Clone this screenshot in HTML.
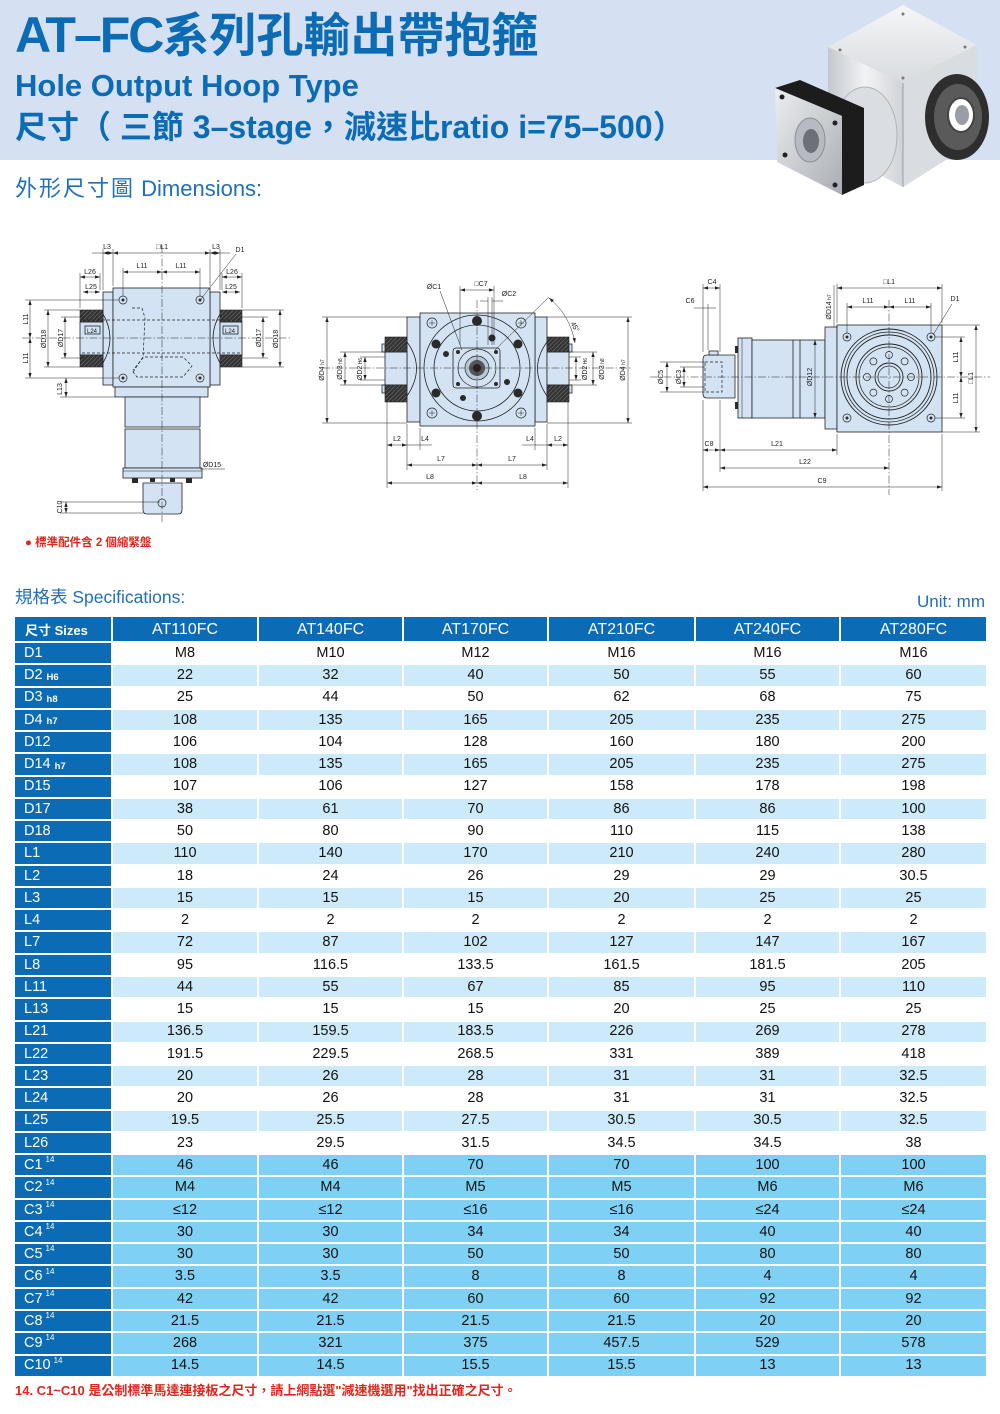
<!DOCTYPE html>
<html><head><meta charset="utf-8">
<style>
*{margin:0;padding:0;box-sizing:border-box}
body{width:1000px;height:1414px;position:relative;background:#fff;overflow:hidden;font-family:"Liberation Sans","Noto Sans CJK TC",sans-serif}
.band{position:absolute;left:0;top:0;width:1000px;height:160px;background:#d5e1f2}
.a{position:absolute;white-space:nowrap}
.g{position:absolute;left:15px;top:617px;display:grid;grid-template-columns:96px 144px 143px 143px 145px 143px 145px;grid-template-rows:24px repeat(33,20.28px);gap:2px}
.r{display:contents}
.r>div{display:flex;align-items:center;justify-content:center;font-size:14.5px;color:#111;line-height:1}
.r>div:first-child{background:#0b6cb5;color:#fff;justify-content:flex-start;padding-left:9px;font-size:14.5px}
.hd>div{background:#0b6cb5;color:#fff;font-size:16px;padding-top:2px}
.hd>div:first-child{font-weight:bold;font-size:13px;padding-left:10px}
.l>div{background:#cdeafa}
.c>div{background:#7ed0f4}
.r b{font-size:9.5px;margin-left:4px;position:relative;top:2px}
.r sup{font-size:8px;margin-left:3px;position:relative;top:-5px;vertical-align:baseline}
svg text{font-family:"Liberation Sans","DejaVu Sans",sans-serif}
.o{fill:#d3e3f4;stroke:#222;stroke-width:0.8}
.d{stroke:#222;stroke-width:0.5;fill:none}
.dm{stroke:#222;stroke-width:0.5;fill:none;marker-start:url(#ar);marker-end:url(#ar)}
.ds{stroke:#222;stroke-width:0.7;stroke-dasharray:3 2;fill:none}
.cl{stroke:#222;stroke-width:0.5;stroke-dasharray:8 2 1.5 2;fill:none}
.t{font-size:7px;fill:#222;text-anchor:middle}
.hb{fill:url(#ht);stroke:#222;stroke-width:0.6}
.bt{fill:#d3e3f4;stroke:#222;stroke-width:0.7}
.dk{fill:#2a2a2a}
</style></head>
<body>
<div class="band"></div>

<div class="a" style="left:15px;top:10px;font-weight:bold;font-size:50px;line-height:50px;color:#0b6cb5"><span style="letter-spacing:-2px">AT–FC</span><span style="font-size:47px;letter-spacing:0">系列孔輸出帶抱箍</span></div>
<div class="a" style="left:15px;top:70px;font-weight:bold;font-size:31px;line-height:31px;color:#0b6cb5">Hole Output Hoop Type</div>
<div class="a" style="left:15px;top:111px;font-weight:bold;font-size:32px;line-height:32px;color:#0b6cb5">尺寸（ 三節 3–stage，減速比ratio i=75–500）</div>
<div class="a" style="left:15px;top:178px;font-size:22px;line-height:22px;color:#1f6fb9"><span style="letter-spacing:2px">外形尺寸圖</span> Dimensions:</div>

<svg class="a" style="left:0;top:0" width="1000" height="560" viewBox="0 0 1000 560">
<defs>
<marker id="ar" viewBox="0 0 6 4" refX="6" refY="2" markerWidth="5" markerHeight="3.4" markerUnits="userSpaceOnUse" orient="auto-start-reverse"><path d="M0,0L6,2L0,4z" fill="#222"/></marker>
<pattern id="ht" width="3" height="3" patternUnits="userSpaceOnUse" patternTransform="rotate(45)"><rect width="3" height="3" fill="#333"/><line x1="0" y1="0" x2="0" y2="3" stroke="#999" stroke-width="0.7"/></pattern>
<linearGradient id="gl" x1="0" y1="0" x2="1" y2="0"><stop offset="0" stop-color="#c4c8ce"/><stop offset="0.5" stop-color="#f2f3f5"/><stop offset="1" stop-color="#cfd2d7"/></linearGradient>
<linearGradient id="gr" x1="0" y1="0" x2="1" y2="1"><stop offset="0" stop-color="#e6e8eb"/><stop offset="1" stop-color="#b9bdc3"/></linearGradient>
<linearGradient id="gt" x1="0" y1="0" x2="0" y2="1"><stop offset="0" stop-color="#f5f6f7"/><stop offset="1" stop-color="#d8dbdf"/></linearGradient>
<linearGradient id="gf" x1="0" y1="0" x2="1" y2="1"><stop offset="0" stop-color="#eceef0"/><stop offset="1" stop-color="#a9adb3"/></linearGradient>
</defs>

<!-- PRODUCT IMAGE -->
<g>
<polygon points="828,47 903,5 977,45 977,140 903,187 828,147" fill="url(#gr)"/>
<polygon points="828,47 903,5 977,45 903,83" fill="url(#gt)"/>
<polygon points="828,47 903,83 903,187 828,147" fill="url(#gl)"/>
<polygon points="903,83 977,45 977,140 903,187" fill="#d9dce0"/>
<line x1="903" y1="83" x2="903" y2="187" stroke="#9aa0a7" stroke-width="1"/>
<ellipse cx="865" cy="135" rx="32" ry="48" fill="#dadde1" stroke="#b0b4ba"/>
<ellipse cx="957" cy="117" rx="32" ry="43" fill="#2e2e2e"/>
<ellipse cx="958" cy="117" rx="24" ry="33" fill="#5a5a5a"/>
<ellipse cx="961" cy="115" rx="13" ry="17" fill="#fff" stroke="#444" stroke-width="2"/>
<ellipse cx="962" cy="115" rx="7" ry="10" fill="#9a9ea4"/>
<polygon points="775,88 800,80 864,108 864,185 842,195 842,116" fill="#1c1c1c"/>
<polygon points="775,88 842,116 842,195 777,162" fill="url(#gf)"/>
<ellipse cx="810" cy="140" rx="15" ry="22" fill="#b7bbc1" stroke="#8a8f96"/>
<ellipse cx="811" cy="141" rx="8" ry="12" fill="#6d7177"/>
<circle cx="782" cy="97" r="2.5" fill="#222"/><circle cx="835" cy="123" r="2.5" fill="#222"/>
<circle cx="785" cy="155" r="2.5" fill="#222"/><circle cx="835" cy="185" r="2.5" fill="#222"/>
<circle cx="903" cy="14" r="1.5" fill="#777"/><circle cx="840" cy="50" r="1.5" fill="#777"/><circle cx="965" cy="47" r="1.5" fill="#777"/><circle cx="903" cy="78" r="1.5" fill="#777"/>
</g>

<!-- LEFT DRAWING -->
<g>
<rect class="o" x="103" y="292" width="10" height="93"/>
<rect class="o" x="210" y="292" width="10" height="93"/>
<rect class="o" x="113" y="288" width="97" height="99"/>
<rect class="o" x="115" y="387" width="93" height="10"/>
<rect class="o" x="125" y="397" width="75" height="30"/>
<rect class="o" x="125" y="429" width="75" height="39"/>
<rect class="o" x="123" y="468" width="79" height="10"/>
<line class="d" x1="123" y1="471" x2="202" y2="471"/>
<rect class="dk" x="132" y="478" width="6" height="5"/><rect class="dk" x="186" y="478" width="6" height="5"/>
<rect class="dk" x="150" y="478" width="5" height="4"/><rect class="dk" x="170" y="478" width="5" height="4"/>
<path class="o" d="M143,483H182V510Q182,514 178,514H147Q143,514 143,510Z"/>
<circle class="bt" cx="162" cy="503" r="4"/>
<rect class="o" x="80" y="322" width="23" height="33"/>
<rect class="hb" x="80" y="310" width="23" height="12"/>
<rect class="hb" x="80" y="355" width="23" height="12"/>
<rect class="o" x="85" y="326" width="15" height="8"/>
<text class="t" x="92" y="333" style="font-size:6px">L24</text>
<rect class="o" x="220" y="322" width="22" height="33"/>
<rect class="hb" x="220" y="310" width="22" height="12"/>
<rect class="hb" x="220" y="355" width="22" height="12"/>
<rect class="o" x="223" y="326" width="15" height="8"/>
<text class="t" x="230" y="333" style="font-size:6px">L24</text>
<path d="M103,314Q117,338 103,363" fill="none" stroke="#222" stroke-width="0.8"/>
<path d="M220,314Q206,338 220,363" fill="none" stroke="#222" stroke-width="0.8"/>
<line class="ds" x1="82" y1="320" x2="241" y2="320"/>
<line class="ds" x1="82" y1="353" x2="241" y2="353"/>
<path class="ds" d="M132,308L142,308L145,318L143,358L133,370"/>
<path class="ds" d="M133,372L143,357L183,357L192,366L183,377L137,377Z"/>
<line class="cl" x1="162" y1="245" x2="162" y2="522"/>
<line class="cl" x1="22" y1="338" x2="292" y2="338"/>
<circle class="bt" cx="123" cy="300" r="4"/><circle class="bt" cx="200" cy="300" r="4"/>
<circle class="bt" cx="123" cy="378" r="4"/><circle class="bt" cx="200" cy="378" r="4"/>
<circle class="dk" cx="123" cy="300" r="1.5"/><circle class="dk" cx="200" cy="300" r="1.5"/>
<circle class="dk" cx="123" cy="378" r="1.5"/><circle class="dk" cx="200" cy="378" r="1.5"/>
<line class="d" x1="103" y1="290" x2="103" y2="249"/><line class="d" x1="113" y1="286" x2="113" y2="249"/>
<line class="d" x1="210" y1="286" x2="210" y2="249"/><line class="d" x1="220" y1="290" x2="220" y2="249"/>
<line class="d" x1="92" y1="253" x2="103" y2="253"/><line class="d" x1="220" y1="253" x2="230" y2="253"/>
<line class="dm" x1="103" y1="253" x2="113" y2="253"/>
<line class="dm" x1="113" y1="253" x2="210" y2="253"/>
<line class="dm" x1="210" y1="253" x2="220" y2="253"/>
<text class="t" x="107" y="249">L3</text><text class="t" x="162" y="249">□L1</text><text class="t" x="216" y="249">L3</text>
<text class="t" x="240" y="252">D1</text>
<line class="d" x1="236" y1="254" x2="201" y2="299"/>
<line class="d" x1="123" y1="296" x2="123" y2="268"/><line class="d" x1="200" y1="296" x2="200" y2="268"/>
<line class="dm" x1="123" y1="272" x2="162" y2="272"/><line class="dm" x1="162" y1="272" x2="200" y2="272"/>
<text class="t" x="142" y="268">L11</text><text class="t" x="181" y="268">L11</text>
<line class="d" x1="80" y1="308" x2="80" y2="273"/><line class="d" x1="100" y1="290" x2="100" y2="273"/>
<line class="dm" x1="80" y1="277" x2="100" y2="277"/><text class="t" x="90" y="274">L26</text>
<line class="dm" x1="83" y1="292" x2="100" y2="292"/><text class="t" x="91" y="289">L25</text>
<line class="d" x1="242" y1="308" x2="242" y2="273"/><line class="d" x1="222" y1="290" x2="222" y2="273"/>
<line class="dm" x1="222" y1="277" x2="242" y2="277"/><text class="t" x="232" y="274">L26</text>
<line class="dm" x1="222" y1="292" x2="240" y2="292"/><text class="t" x="231" y="289">L25</text>
<line class="d" x1="25" y1="300" x2="119" y2="300"/><line class="d" x1="25" y1="378" x2="119" y2="378"/>
<line class="dm" x1="30" y1="300" x2="30" y2="338"/><line class="dm" x1="30" y1="338" x2="30" y2="378"/>
<text class="t" transform="rotate(-90 28 319)" x="28" y="319">L11</text>
<text class="t" transform="rotate(-90 28 358)" x="28" y="358">L11</text>
<line class="d" x1="44" y1="310" x2="80" y2="310"/><line class="d" x1="44" y1="367" x2="80" y2="367"/>
<line class="dm" x1="48" y1="310" x2="48" y2="367"/>
<text class="t" transform="rotate(-90 46 339)" x="46" y="339">ØD18</text>
<line class="d" x1="61" y1="317" x2="85" y2="317"/><line class="d" x1="61" y1="358" x2="85" y2="358"/>
<line class="dm" x1="65" y1="317" x2="65" y2="358"/>
<text class="t" transform="rotate(-90 63 338)" x="63" y="338">ØD17</text>
<line class="d" x1="60" y1="397" x2="115" y2="397"/>
<line class="dm" x1="66" y1="378" x2="66" y2="397"/>
<text class="t" transform="rotate(-90 62 389)" x="62" y="389">L13</text>
<line class="d" x1="60" y1="502" x2="160" y2="502"/><line class="d" x1="60" y1="513" x2="143" y2="513"/>
<line class="dm" x1="66" y1="502" x2="66" y2="513"/>
<text class="t" transform="rotate(-90 62 507)" x="62" y="507">C10</text>
<line class="d" x1="242" y1="317" x2="268" y2="317"/><line class="d" x1="242" y1="358" x2="268" y2="358"/>
<line class="dm" x1="263" y1="317" x2="263" y2="358"/>
<text class="t" transform="rotate(-90 261 338)" x="261" y="338">ØD17</text>
<line class="d" x1="242" y1="310" x2="284" y2="310"/><line class="d" x1="242" y1="367" x2="284" y2="367"/>
<line class="dm" x1="280" y1="310" x2="280" y2="367"/>
<text class="t" transform="rotate(-90 278 339)" x="278" y="339">ØD18</text>
<line class="d" x1="200" y1="469" x2="225" y2="469"/>
<text class="t" x="212" y="467">ØD15</text>
</g>

<!-- MIDDLE DRAWING -->
<g>
<rect class="o" x="407" y="317" width="13" height="105"/>
<rect class="o" x="535" y="317" width="12" height="105"/>
<rect class="o" x="420" y="313" width="115" height="113"/>
<circle class="o" cx="477" cy="368" r="53"/>
<circle cx="477" cy="368" r="43" fill="none" stroke="#222" stroke-width="0.8"/>
<rect class="o" x="453" y="348" width="47" height="40" rx="3"/>
<circle cx="477" cy="368" r="19" fill="none" stroke="#222" stroke-width="0.7"/>
<circle cx="477" cy="368" r="12" fill="#b8c8da" stroke="#222" stroke-width="0.7"/>
<circle cx="477" cy="368" r="8" fill="#555"/>
<circle cx="477" cy="368" r="4" fill="#222"/>
<circle class="dk" cx="477" cy="321" r="5"/><circle class="dk" cx="477" cy="416" r="5"/>
<circle class="dk" cx="436" cy="344" r="4.5"/><circle class="dk" cx="518" cy="344" r="4.5"/>
<circle class="dk" cx="436" cy="393" r="4.5"/><circle class="dk" cx="518" cy="393" r="4.5"/>
<circle class="dk" cx="446" cy="354" r="3"/><circle class="dk" cx="492" cy="338" r="3.5"/>
<circle class="dk" cx="507" cy="382" r="3"/><circle class="dk" cx="463" cy="398" r="3"/>
<circle class="dk" cx="458" cy="352" r="2"/><circle class="dk" cx="496" cy="352" r="2"/>
<circle class="dk" cx="458" cy="384" r="2"/><circle class="dk" cx="496" cy="384" r="2"/>
<circle class="bt" cx="432" cy="323" r="5"/><circle class="bt" cx="521" cy="323" r="5"/>
<circle class="bt" cx="432" cy="413" r="5"/><circle class="bt" cx="521" cy="413" r="5"/>
<path class="d" d="M429,323h6M432,320v6M518,323h6M521,320v6M429,413h6M432,410v6M518,413h6M521,410v6"/>
<rect class="o" x="385" y="352" width="22" height="33"/>
<rect class="hb" x="385" y="337" width="22" height="15"/>
<rect class="hb" x="385" y="385" width="22" height="17"/>
<rect class="o" x="547" y="352" width="22" height="33"/>
<rect class="hb" x="547" y="337" width="22" height="15"/>
<rect class="hb" x="547" y="385" width="22" height="17"/>
<rect class="o" x="382" y="344" width="3" height="8"/><rect class="o" x="382" y="385" width="3" height="8"/>
<rect class="o" x="569" y="344" width="3" height="8"/><rect class="o" x="569" y="385" width="3" height="8"/>
<path d="M407,342Q426,368 407,396" fill="none" stroke="#222" stroke-width="0.8"/>
<path d="M547,342Q528,368 547,396" fill="none" stroke="#222" stroke-width="0.8"/>
<line class="cl" x1="322" y1="368" x2="632" y2="368"/>
<line class="cl" x1="477" y1="300" x2="477" y2="490"/>
<line class="d" x1="322" y1="317" x2="407" y2="317"/><line class="d" x1="322" y1="423" x2="407" y2="423"/>
<line class="dm" x1="327" y1="317" x2="327" y2="423"/>
<text class="t" transform="rotate(-90 324 370)" x="324" y="370">ØD4<tspan style="font-size:5px"> h7</tspan></text>
<line class="d" x1="340" y1="352" x2="385" y2="352"/><line class="d" x1="340" y1="385" x2="385" y2="385"/>
<line class="dm" x1="345" y1="352" x2="345" y2="385"/>
<text class="t" transform="rotate(-90 342 369)" x="342" y="369">ØD3<tspan style="font-size:5px"> h8</tspan></text>
<line class="d" x1="360" y1="357" x2="385" y2="357"/><line class="d" x1="360" y1="380" x2="385" y2="380"/>
<line class="dm" x1="365" y1="357" x2="365" y2="380"/>
<text class="t" transform="rotate(-90 362 369)" x="362" y="369">ØD2<tspan style="font-size:5px"> H6</tspan></text>
<line class="d" x1="569" y1="357" x2="581" y2="357"/><line class="d" x1="569" y1="380" x2="581" y2="380"/>
<line class="dm" x1="576" y1="357" x2="576" y2="380"/>
<text class="t" transform="rotate(-90 587 369)" x="587" y="369">ØD2<tspan style="font-size:5px"> H6</tspan></text>
<line class="d" x1="569" y1="352" x2="597" y2="352"/><line class="d" x1="569" y1="385" x2="597" y2="385"/>
<line class="dm" x1="593" y1="352" x2="593" y2="385"/>
<text class="t" transform="rotate(-90 604 369)" x="604" y="369">ØD3<tspan style="font-size:5px"> h8</tspan></text>
<line class="d" x1="547" y1="317" x2="632" y2="317"/><line class="d" x1="547" y1="423" x2="632" y2="423"/>
<line class="dm" x1="628" y1="317" x2="628" y2="423"/>
<text class="t" transform="rotate(-90 625 370)" x="625" y="370">ØD4<tspan style="font-size:5px"> h7</tspan></text>
<line class="d" x1="387" y1="402" x2="387" y2="488"/><line class="d" x1="407" y1="424" x2="407" y2="470"/>
<line class="d" x1="420" y1="428" x2="420" y2="450"/>
<line class="d" x1="535" y1="428" x2="535" y2="450"/><line class="d" x1="547" y1="424" x2="547" y2="470"/>
<line class="d" x1="568" y1="402" x2="568" y2="488"/>
<line class="dm" x1="387" y1="445" x2="407" y2="445"/><text class="t" x="397" y="441">L2</text>
<line class="d" x1="407" y1="445" x2="432" y2="445"/><text class="t" x="425" y="441">L4</text>
<line class="dm" x1="547" y1="445" x2="568" y2="445"/><text class="t" x="558" y="441">L2</text>
<line class="d" x1="522" y1="445" x2="547" y2="445"/><text class="t" x="530" y="441">L4</text>
<line class="dm" x1="407" y1="465" x2="477" y2="465"/><text class="t" x="441" y="461">L7</text>
<line class="dm" x1="477" y1="465" x2="547" y2="465"/><text class="t" x="512" y="461">L7</text>
<line class="dm" x1="387" y1="483" x2="477" y2="483"/><text class="t" x="430" y="479">L8</text>
<line class="dm" x1="477" y1="483" x2="568" y2="483"/><text class="t" x="523" y="479">L8</text>
<text class="t" x="434" y="289">ØC1</text>
<line class="d" x1="440" y1="291" x2="462" y2="350"/>
<line class="d" x1="460" y1="345" x2="460" y2="286"/><line class="d" x1="494" y1="345" x2="494" y2="286"/>
<line class="dm" x1="460" y1="290" x2="494" y2="290"/>
<text class="t" x="481" y="286">□C7</text>
<line class="d" x1="488" y1="345" x2="488" y2="297"/><line class="d" x1="492" y1="345" x2="492" y2="297"/>
<line class="d" x1="480" y1="301" x2="488" y2="301"/><line class="d" x1="492" y1="301" x2="503" y2="301"/>
<text class="t" x="509" y="296">ØC2</text>
<line class="d" x1="549" y1="297" x2="495" y2="350"/>
<path class="dm" d="M549,298Q570,315 575,343"/>
<text class="t" transform="rotate(60 573 328)" x="573" y="328">45°</text>
</g>

<!-- RIGHT DRAWING -->
<g>
<path class="o" d="M707,355H735V398H707Q703,398 703,394V359Q703,355 707,355Z"/>
<rect class="ds" x="705" y="362" width="17" height="30"/>
<rect class="o" x="709" y="351" width="9" height="4"/>
<rect class="dk" x="735" y="346" width="4" height="7"/><rect class="dk" x="735" y="402" width="4" height="7"/>
<rect class="o" x="738" y="338" width="14" height="80"/>
<line class="d" x1="742" y1="338" x2="742" y2="418"/>
<rect class="o" x="752" y="340" width="73" height="78"/>
<line class="d" x1="793" y1="340" x2="793" y2="418" style="stroke-width:0.8"/>
<line class="d" x1="800" y1="340" x2="800" y2="418" style="stroke-width:0.8"/>
<rect class="o" x="825" y="327" width="12" height="102"/>
<rect class="o" x="837" y="325" width="105" height="107"/>
<circle cx="889" cy="377" r="48" fill="none" stroke="#222" stroke-width="0.9"/>
<circle cx="889" cy="377" r="45" fill="none" stroke="#222" stroke-width="0.7"/>
<circle cx="889" cy="377" r="42" fill="none" stroke="#222" stroke-width="0.9"/>
<circle cx="889" cy="377" r="33" fill="none" stroke="#222" stroke-width="0.9"/>
<circle cx="889" cy="377" r="30" fill="none" stroke="#222" stroke-width="0.7"/>
<circle class="bt" cx="911" cy="377" r="3.5"/><circle class="bt" cx="904.6" cy="361.4" r="3.5"/>
<circle class="bt" cx="889" cy="355" r="3.5"/><circle class="bt" cx="873.4" cy="361.4" r="3.5"/>
<circle class="bt" cx="867" cy="377" r="3.5"/><circle class="bt" cx="873.4" cy="392.6" r="3.5"/>
<circle class="bt" cx="889" cy="399" r="3.5"/><circle class="bt" cx="904.6" cy="392.6" r="3.5"/>
<circle cx="889" cy="377" r="14" fill="none" stroke="#222" stroke-width="0.9"/>
<circle cx="889" cy="377" r="11" fill="none" stroke="#222" stroke-width="0.7"/>
<circle class="bt" cx="847" cy="337" r="4"/><circle class="bt" cx="931" cy="337" r="4"/>
<circle class="bt" cx="847" cy="418" r="4"/><circle class="bt" cx="931" cy="418" r="4"/>
<circle class="dk" cx="847" cy="337" r="1.5"/><circle class="dk" cx="931" cy="337" r="1.5"/>
<circle class="dk" cx="847" cy="418" r="1.5"/><circle class="dk" cx="931" cy="418" r="1.5"/>
<line class="cl" x1="650" y1="377" x2="990" y2="377"/>
<line class="cl" x1="889" y1="300" x2="889" y2="495"/>
<line class="d" x1="837" y1="323" x2="837" y2="284"/><line class="d" x1="942" y1="323" x2="942" y2="284"/>
<line class="dm" x1="837" y1="288" x2="942" y2="288"/><text class="t" x="889" y="284">□L1</text>
<line class="d" x1="847" y1="333" x2="847" y2="303"/><line class="d" x1="931" y1="333" x2="931" y2="303"/>
<line class="dm" x1="847" y1="307" x2="889" y2="307"/><line class="dm" x1="889" y1="307" x2="931" y2="307"/>
<text class="t" x="868" y="303">L11</text><text class="t" x="910" y="303">L11</text>
<text class="t" x="955" y="301">D1</text>
<line class="d" x1="952" y1="304" x2="933" y2="335"/>
<line class="d" x1="942" y1="325" x2="980" y2="325"/><line class="d" x1="942" y1="432" x2="980" y2="432"/>
<line class="dm" x1="976" y1="325" x2="976" y2="432"/>
<text class="t" transform="rotate(-90 973 378)" x="973" y="378">□L1</text>
<line class="d" x1="935" y1="337" x2="965" y2="337"/><line class="d" x1="935" y1="418" x2="965" y2="418"/>
<line class="dm" x1="961" y1="337" x2="961" y2="377"/><line class="dm" x1="961" y1="377" x2="961" y2="418"/>
<text class="t" transform="rotate(-90 958 357)" x="958" y="357">L11</text>
<text class="t" transform="rotate(-90 958 398)" x="958" y="398">L11</text>
<line class="d" x1="834" y1="285" x2="834" y2="327"/>
<text class="t" transform="rotate(-90 831 307)" x="831" y="307">ØD14<tspan style="font-size:5px"> h7</tspan></text>
<line class="dm" x1="815" y1="340" x2="815" y2="418"/>
<text class="t" transform="rotate(-90 812 377)" x="812" y="377">ØD12</text>
<line class="d" x1="660" y1="362" x2="705" y2="362"/><line class="d" x1="660" y1="392" x2="705" y2="392"/>
<line class="dm" x1="667" y1="362" x2="667" y2="392"/>
<text class="t" transform="rotate(-90 663 377)" x="663" y="377">ØC5</text>
<line class="d" x1="680" y1="367" x2="705" y2="367"/><line class="d" x1="680" y1="387" x2="705" y2="387"/>
<line class="dm" x1="684" y1="367" x2="684" y2="387"/>
<text class="t" transform="rotate(-90 681 377)" x="681" y="377">ØC3</text>
<line class="d" x1="703" y1="352" x2="703" y2="284"/><line class="d" x1="720" y1="352" x2="720" y2="284"/>
<line class="dm" x1="703" y1="288" x2="720" y2="288"/><text class="t" x="712" y="284">C4</text>
<line class="d" x1="708" y1="350" x2="708" y2="304"/>
<line class="d" x1="694" y1="308" x2="716" y2="308"/><text class="t" x="690" y="303">C6</text>
<line class="d" x1="703" y1="400" x2="703" y2="491"/><line class="d" x1="720" y1="400" x2="720" y2="472"/>
<line class="d" x1="837" y1="434" x2="837" y2="455"/><line class="d" x1="942" y1="434" x2="942" y2="491"/>
<line class="dm" x1="703" y1="450" x2="720" y2="450"/><text class="t" x="709" y="446">C8</text>
<line class="dm" x1="720" y1="450" x2="837" y2="450"/><text class="t" x="777" y="446">L21</text>
<line class="dm" x1="720" y1="468" x2="889" y2="468"/><text class="t" x="805" y="464">L22</text>
<line class="dm" x1="703" y1="487" x2="942" y2="487"/><text class="t" x="822" y="483">C9</text>
</g>
</svg>

<div class="a" style="left:25px;top:537px;font-weight:bold;font-size:11.5px;line-height:12px;color:#e0261e">● 標準配件含 2 個縮緊盤</div>

<div class="a" style="left:15px;top:588px;font-size:17.5px;line-height:18px;color:#1f6fb9">規格表 Specifications:</div>
<div class="a" style="left:917px;top:593px;font-size:17px;line-height:17px;color:#1f6fb9">Unit: mm</div>

<div class="g">
<div class="r hd"><div>尺寸 Sizes</div><div>AT110FC</div><div>AT140FC</div><div>AT170FC</div><div>AT210FC</div><div>AT240FC</div><div>AT280FC</div></div>
<div class="r"><div>D1</div><div>M8</div><div>M10</div><div>M12</div><div>M16</div><div>M16</div><div>M16</div></div>
<div class="r l"><div>D2<b>H6</b></div><div>22</div><div>32</div><div>40</div><div>50</div><div>55</div><div>60</div></div>
<div class="r"><div>D3<b>h8</b></div><div>25</div><div>44</div><div>50</div><div>62</div><div>68</div><div>75</div></div>
<div class="r l"><div>D4<b>h7</b></div><div>108</div><div>135</div><div>165</div><div>205</div><div>235</div><div>275</div></div>
<div class="r"><div>D12</div><div>106</div><div>104</div><div>128</div><div>160</div><div>180</div><div>200</div></div>
<div class="r l"><div>D14<b>h7</b></div><div>108</div><div>135</div><div>165</div><div>205</div><div>235</div><div>275</div></div>
<div class="r"><div>D15</div><div>107</div><div>106</div><div>127</div><div>158</div><div>178</div><div>198</div></div>
<div class="r l"><div>D17</div><div>38</div><div>61</div><div>70</div><div>86</div><div>86</div><div>100</div></div>
<div class="r"><div>D18</div><div>50</div><div>80</div><div>90</div><div>110</div><div>115</div><div>138</div></div>
<div class="r l"><div>L1</div><div>110</div><div>140</div><div>170</div><div>210</div><div>240</div><div>280</div></div>
<div class="r"><div>L2</div><div>18</div><div>24</div><div>26</div><div>29</div><div>29</div><div>30.5</div></div>
<div class="r l"><div>L3</div><div>15</div><div>15</div><div>15</div><div>20</div><div>25</div><div>25</div></div>
<div class="r"><div>L4</div><div>2</div><div>2</div><div>2</div><div>2</div><div>2</div><div>2</div></div>
<div class="r l"><div>L7</div><div>72</div><div>87</div><div>102</div><div>127</div><div>147</div><div>167</div></div>
<div class="r"><div>L8</div><div>95</div><div>116.5</div><div>133.5</div><div>161.5</div><div>181.5</div><div>205</div></div>
<div class="r l"><div>L11</div><div>44</div><div>55</div><div>67</div><div>85</div><div>95</div><div>110</div></div>
<div class="r"><div>L13</div><div>15</div><div>15</div><div>15</div><div>20</div><div>25</div><div>25</div></div>
<div class="r l"><div>L21</div><div>136.5</div><div>159.5</div><div>183.5</div><div>226</div><div>269</div><div>278</div></div>
<div class="r"><div>L22</div><div>191.5</div><div>229.5</div><div>268.5</div><div>331</div><div>389</div><div>418</div></div>
<div class="r l"><div>L23</div><div>20</div><div>26</div><div>28</div><div>31</div><div>31</div><div>32.5</div></div>
<div class="r"><div>L24</div><div>20</div><div>26</div><div>28</div><div>31</div><div>31</div><div>32.5</div></div>
<div class="r l"><div>L25</div><div>19.5</div><div>25.5</div><div>27.5</div><div>30.5</div><div>30.5</div><div>32.5</div></div>
<div class="r"><div>L26</div><div>23</div><div>29.5</div><div>31.5</div><div>34.5</div><div>34.5</div><div>38</div></div>
<div class="r c"><div>C1<sup>14</sup></div><div>46</div><div>46</div><div>70</div><div>70</div><div>100</div><div>100</div></div>
<div class="r c"><div>C2<sup>14</sup></div><div>M4</div><div>M4</div><div>M5</div><div>M5</div><div>M6</div><div>M6</div></div>
<div class="r c"><div>C3<sup>14</sup></div><div>≤12</div><div>≤12</div><div>≤16</div><div>≤16</div><div>≤24</div><div>≤24</div></div>
<div class="r c"><div>C4<sup>14</sup></div><div>30</div><div>30</div><div>34</div><div>34</div><div>40</div><div>40</div></div>
<div class="r c"><div>C5<sup>14</sup></div><div>30</div><div>30</div><div>50</div><div>50</div><div>80</div><div>80</div></div>
<div class="r c"><div>C6<sup>14</sup></div><div>3.5</div><div>3.5</div><div>8</div><div>8</div><div>4</div><div>4</div></div>
<div class="r c"><div>C7<sup>14</sup></div><div>42</div><div>42</div><div>60</div><div>60</div><div>92</div><div>92</div></div>
<div class="r c"><div>C8<sup>14</sup></div><div>21.5</div><div>21.5</div><div>21.5</div><div>21.5</div><div>20</div><div>20</div></div>
<div class="r c"><div>C9<sup>14</sup></div><div>268</div><div>321</div><div>375</div><div>457.5</div><div>529</div><div>578</div></div>
<div class="r c"><div>C10<sup>14</sup></div><div>14.5</div><div>14.5</div><div>15.5</div><div>15.5</div><div>13</div><div>13</div></div>
</div>

<div class="a" style="left:15px;top:1384px;font-weight:bold;font-size:13px;line-height:13px;color:#e0261e">14. C1~C10 是公制標準馬達連接板之尺寸，請上網點選"減速機選用"找出正確之尺寸。</div>
</body></html>
